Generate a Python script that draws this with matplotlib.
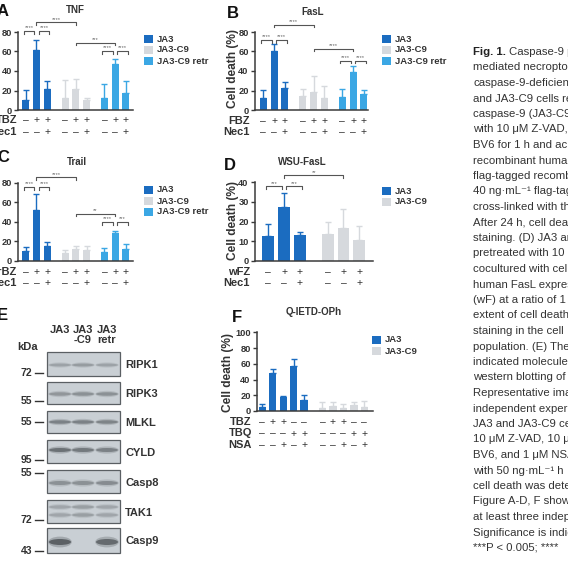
import matplotlib
matplotlib.use('Agg')
import matplotlib.pyplot as plt
from matplotlib.transforms import blended_transform_factory
from matplotlib.patches import Rectangle, Ellipse

plt.rcParams['font.family'] = ['Liberation Sans', 'DejaVu Sans']

# ---------------- data ----------------
series_names = ['JA3', 'JA3-C9', 'JA3-C9 retr']
colors = ['#1b6cc0', '#d6d9dd', '#3ba7e4']

# A: TNF
tnf_ja3 = [10, 62, 22];      tnf_ja3_sd = [11, 10, 7.5]
tnf_c9 = [12.5, 21.5, 10];   tnf_c9_sd = [18, 10, 2.5]
tnf_retr = [12, 47, 17];     tnf_retr_sd = [14.5, 5, 13]
# B: FasL
fasl_ja3 = [12, 60.5, 23];   fasl_ja3_sd = [8.5, 7.5, 6]
fasl_c9 = [14.5, 18.5, 12.5]; fasl_c9_sd = [7, 16, 12.5]
fasl_retr = [13.5, 38.5, 16]; fasl_retr_sd = [8.5, 7, 5]
# C: Trail
trail_ja3 = [10, 52, 15];    trail_ja3_sd = [4, 16, 4]
trail_c9 = [8.5, 12, 11];    trail_c9_sd = [2.5, 3, 4.5]
trail_retr = [9, 29, 12];    trail_retr_sd = [4.5, 2, 5.5]
# D: WSU-FasL
wsu_ja3 = [12.5, 27.5, 13];  wsu_ja3_sd = [6, 7, 1.5]
wsu_c9 = [13.5, 16.5, 10.5]; wsu_c9_sd = [6, 10, 7]
# F: Q-IETD-OPh
qvd_ja3 = [5.5, 48, 18, 57, 14]; qvd_ja3_sd = [3, 6, 1, 9, 6]
qvd_c9 = [3.5, 6.5, 4, 7.5, 5];  qvd_c9_sd = [7.5, 4.5, 5, 3.5, 7.5]

# significance brackets: (group1, bar1, group2, bar2, y, label, shift)
tnf_brackets = [(0, 0, 0, 1, 81, '****', -0.2), (0, 1, 0, 2, 81, '****', 0.2),
                (0, 1, 1, 1, 90, '****', 0), (1, 1, 2, 1, 69, '***', 0),
                (2, 0, 2, 1, 60.5, '****', -0.2), (2, 1, 2, 2, 60.5, '****', 0.2)]
fasl_brackets = [(0, 0, 0, 1, 72, '****', -0.2), (0, 1, 0, 2, 72, '****', 0.2),
                 (0, 1, 1, 1, 87.5, '****', 0), (1, 1, 2, 1, 63, '****', 0),
                 (2, 0, 2, 1, 50.5, '****', -0.2), (2, 1, 2, 2, 50.5, '****', 0.2)]
trail_brackets = [(0, 0, 0, 1, 75.5, '****', -0.2), (0, 1, 0, 2, 75.5, '****', 0.2),
                  (0, 1, 1, 1, 85.5, '****', 0), (1, 1, 2, 1, 48.5, '**', 0),
                  (2, 0, 2, 1, 40, '****', -0.2), (2, 1, 2, 2, 40, '***', 0.2)]
wsu_brackets = [(0, 0, 0, 1, 37.8, '***', -0.15), (0, 1, 0, 2, 37.8, '***', 0.15),
                (0, 1, 1, 1, 43.4, '**', 0)]

# treatment rows
tnf_rows = ['TBZ', 'Nec1']
fasl_rows = ['FBZ', 'Nec1']
trail_rows = ['TrBZ', 'Nec1']
wsu_rows = ['wFZ', 'Nec1']
qvd_rows = ['TBZ', 'TBQ', 'NSA']
three_signs = [['–', '+', '+'], ['–', '–', '+']]
qvd_signs = [['–', '+', '+', '–', '–'], ['–', '–', '–', '+', '+'], ['–', '–', '+', '–', '+']]

# western blot
blot_lanes = ['JA3', 'JA3\n-C9', 'JA3\nretr']
blot_proteins = ['RIPK1', 'RIPK3', 'MLKL', 'CYLD', 'Casp8', 'TAK1', 'Casp9']
blot_markers = ['72', '55', '55', '95', '55', '72', '43']
blot_intensity = [[0.35, 0.40, 0.35], [0.45, 0.50, 0.50], [0.65, 0.65, 0.62],
                  [0.80, 0.72, 0.65], [0.50, 0.50, 0.55], [0.32, 0.38, 0.32],
                  [0.98, 0.0, 0.88]]

caption_lines = [
    "Caspase-9 p", "mediated necropto", "caspase-9-deficient", "and JA3-C9 cells re",
    "caspase-9 (JA3-C9", "with 10 μM Z-VAD,", "BV6 for 1 h and ac", "recombinant huma",
    "flag-tagged recomb", "40 ng·mL⁻¹ flag-tag", "cross-linked with th", "After 24 h, cell dea",
    "staining. (D) JA3 ar", "pretreated with 10", "cocultured with cel", "human FasL expres",
    "(wF) at a ratio of 1", "extent of cell death", "staining in the cell", "population. (E) The",
    "indicated molecules", "western blotting of", "Representative ima", "independent experi",
    "JA3 and JA3-C9 ce", "10 μM Z-VAD, 10 μ", "BV6, and 1 μM NSA", "with 50 ng·mL⁻¹ h",
    "cell death was dete", "Figure A-D, F show", "at least three indep", "Significance is indic",
    "***P < 0.005; ****"]

# ---------------- layout ----------------
W = H = 568
fig = plt.figure(figsize=(5.68, 5.68), dpi=100)
canvas = fig.add_axes([0, 0, 1, 1])
canvas.set_xlim(0, W); canvas.set_ylim(H, 0); canvas.axis('off')

TXT = '#333333'


def add_ax(left, right, top, bottom):
    ax = fig.add_axes([left / W, 1 - bottom / H, (right - left) / W, (bottom - top) / H])
    ax.set_facecolor('none')
    return ax


def style_ax(ax, ymax, ystep):
    ax.set_ylim(0, ymax)
    ax.set_yticks(range(0, ymax + 1, ystep))
    for s in ['top', 'right']:
        ax.spines[s].set_visible(False)
    for s in ['left', 'bottom']:
        ax.spines[s].set_color('#3a3a3a')
        ax.spines[s].set_linewidth(1.1)
    ax.set_xticks([])
    ax.tick_params(axis='y', length=3, width=1, color='#3a3a3a', pad=1.5,
                   labelsize=6.7, labelcolor=TXT)
    for lab in ax.get_yticklabels():
        lab.set_fontweight('bold')


def bars(ax, groups, step, width):
    pos = []
    for g, (vals, sds, col) in enumerate(groups):
        xs = [g * step + i for i in range(len(vals))]
        pos.append(xs)
        ax.bar(xs, vals, width=width, color=col, zorder=2)
        ax.errorbar(xs, vals, yerr=[[0] * len(vals), sds], fmt='none', ecolor=col,
                    elinewidth=1.0, capsize=2.3, capthick=1.0, zorder=2)
    return pos


def brackets(ax, pos, specs, ymax):
    drop = ymax * 0.035
    for g1, i1, g2, i2, y, lab, sh in specs:
        x1 = pos[g1][i1] + sh
        x2 = pos[g2][i2] + sh
        ax.plot([x1, x1, x2, x2], [y - drop, y, y, y - drop], color='#555555', lw=0.8,
                clip_on=False, zorder=3)
        ax.text((x1 + x2) / 2, y + ymax * 0.008, lab, ha='center', va='bottom', fontsize=4.2,
                color='#666666', clip_on=False)


def sign_rows(ax, pos, rows, signs, ys, label_right):
    tr = blended_transform_factory(ax.transData, canvas.transData)
    flat = [x for xs in pos for x in xs]
    for r, (name, y) in enumerate(zip(rows, ys)):
        canvas.text(label_right, y, name, ha='right', va='center', fontsize=8,
                    fontweight='bold', color=TXT)
        row_signs = signs[r]
        for k, x in enumerate(flat):
            s = row_signs[k % len(row_signs)]
            ax.text(x, y, s, transform=tr, ha='center', va='center', fontsize=7.5,
                    color=TXT, clip_on=False)


def legend(x, ys, n, size=(9, 8), tx=None):
    for k in range(n):
        canvas.add_patch(Rectangle((x, ys[k] - size[1] / 2), size[0], size[1],
                                   facecolor=colors[k], edgecolor='none'))
        canvas.text(tx if tx else x + size[0] + 4, ys[k], series_names[k], ha='left',
                    va='center', fontsize=6.8, fontweight='bold', color=TXT)


def panel_title(x, y, s):
    canvas.text(x, y, s, ha='center', va='center', fontsize=7, fontweight='bold', color=TXT)


def letter(x, y, s):
    canvas.text(x, y, s, ha='left', va='center', fontsize=12, fontweight='bold', color='#111111')


def ylabel(x, y, s='Cell death (%)'):
    canvas.text(x, y, s, ha='center', va='center', rotation=90, fontsize=8.6,
                fontweight='bold', color=TXT)


# ---- A ----
axA = add_ax(18, 133, 32, 110)
axA.set_xlim(-0.72, 10.0)
style_ax(axA, 80, 20)
pA = bars(axA, [(tnf_ja3, tnf_ja3_sd, colors[0]), (tnf_c9, tnf_c9_sd, colors[1]),
                (tnf_retr, tnf_retr_sd, colors[2])], 3.67, 0.65)
brackets(axA, pA, tnf_brackets, 80)
sign_rows(axA, pA, tnf_rows, three_signs, [120, 132], 17)
panel_title(75, 10, 'TNF')
letter(-3, 12, 'A')
legend(144, [39, 50, 61], 3)

# ---- B ----
axB = add_ax(255, 368, 32, 110)
axB.set_xlim(-0.77, 9.7)
style_ax(axB, 80, 20)
pB = bars(axB, [(fasl_ja3, fasl_ja3_sd, colors[0]), (fasl_c9, fasl_c9_sd, colors[1]),
                (fasl_retr, fasl_retr_sd, colors[2])], 3.66, 0.65)
brackets(axB, pB, fasl_brackets, 80)
sign_rows(axB, pB, fasl_rows, three_signs, [121, 132], 250)
panel_title(313, 12, 'FasL')
letter(227, 13, 'B')
ylabel(233, 68)
legend(382, [39, 50, 61], 3)

# ---- C ----
axC = add_ax(18, 133, 182.7, 261)
axC.set_xlim(-0.72, 10.0)
style_ax(axC, 80, 20)
pC = bars(axC, [(trail_ja3, trail_ja3_sd, colors[0]), (trail_c9, trail_c9_sd, colors[1]),
                (trail_retr, trail_retr_sd, colors[2])], 3.67, 0.65)
brackets(axC, pC, trail_brackets, 80)
sign_rows(axC, pC, trail_rows, three_signs, [272, 283], 17)
panel_title(77, 162, 'Trail')
letter(-3, 158, 'C')
legend(144, [190, 201, 212], 3)

# ---- D ----
axD = add_ax(255, 373, 182, 261)
axD.set_xlim(-0.84, 6.63)
style_ax(axD, 40, 10)
pD = bars(axD, [(wsu_ja3, wsu_ja3_sd, colors[0]), (wsu_c9, wsu_c9_sd, colors[1])], 3.76, 0.74)
brackets(axD, pD, wsu_brackets, 40)
sign_rows(axD, pD, wsu_rows, three_signs, [272, 283], 250)
panel_title(302, 162, 'WSU-FasL')
letter(224, 165, 'D')
ylabel(233, 220)
legend(382, [191, 202], 2)

# ---- F ----
axF = add_ax(257, 373, 332.3, 411)
axF.set_xlim(-0.5, 10.58)
style_ax(axF, 100, 20)
pF = bars(axF, [(qvd_ja3, qvd_ja3_sd, colors[0]), (qvd_c9, qvd_c9_sd, colors[1])], 5.75, 0.7)
sign_rows(axF, pF, qvd_rows, qvd_signs, [422, 433.5, 445], 252)
panel_title(314, 312, 'Q-IETD-OPh')
letter(232, 317, 'F')
ylabel(228, 372)
legend(372, [340, 351], 2)

# ---- E: western blot ----
letter(-3, 316, 'E')
lane_x = [60, 83, 107]
for lx, lab in zip(lane_x, blot_lanes):
    canvas.text(lx, 325, lab, ha='center', va='top', fontsize=8, fontweight='bold',
                color=TXT, linespacing=0.95)
canvas.text(28, 347, 'kDa', ha='center', va='center', fontsize=8, fontweight='bold', color=TXT)
box_tb = [(352, 376), (382, 404), (411, 433), (440, 463), (470, 493), (500, 523), (528, 553)]
band_y = [[365], [394], [422], [450], [483], [507, 515], [542]]
band_h = [3.0, 3.5, 3.5, 4.0, 4.0, 3.5, 6.0]
marker_y = [373, 401, 422, 460, 473, 520, 551]
for k, prot in enumerate(blot_proteins):
    t, b = box_tb[k]
    canvas.add_patch(Rectangle((47, t), 73, b - t, facecolor='#c9cfd4', edgecolor='#5a5f63',
                               lw=0.9))
    for li, lx in enumerate(lane_x):
        inten = blot_intensity[k][li]
        if inten <= 0:
            continue
        for by in band_y[k]:
            for grow, a in [(1.8, 0.25), (1.0, 0.6)]:
                canvas.add_patch(Ellipse((lx, by), 20 + grow * 2, band_h[k] * grow,
                                         facecolor='#2b3034', edgecolor='none',
                                         alpha=inten * a))
    canvas.text(125, (t + b) / 2 + 1, prot, ha='left', va='center', fontsize=8,
                fontweight='bold', color=TXT)
    canvas.text(32, marker_y[k], blot_markers[k], ha='right', va='center', fontsize=7.5,
                fontweight='bold', color=TXT)
    canvas.plot([35, 43], [marker_y[k], marker_y[k]], color=TXT, lw=1.0)

# ---- caption ----
renderer = fig.canvas.get_renderer()
cap_x = 473
for k, line in enumerate(caption_lines):
    y = 52 + k * 15.5
    if k == 0:
        t0 = canvas.text(cap_x, y, 'Fig. 1.', ha='left', va='center', fontsize=8.2,
                         fontweight='bold', color='#222222')
        bb = t0.get_window_extent(renderer)
        canvas.text(cap_x + bb.width + 3, y, line, ha='left', va='center', fontsize=8.2,
                    color='#333333')
    else:
        canvas.text(cap_x, y, line, ha='left', va='center', fontsize=8.2, color='#333333')

fig.savefig('out.png', dpi=100)
